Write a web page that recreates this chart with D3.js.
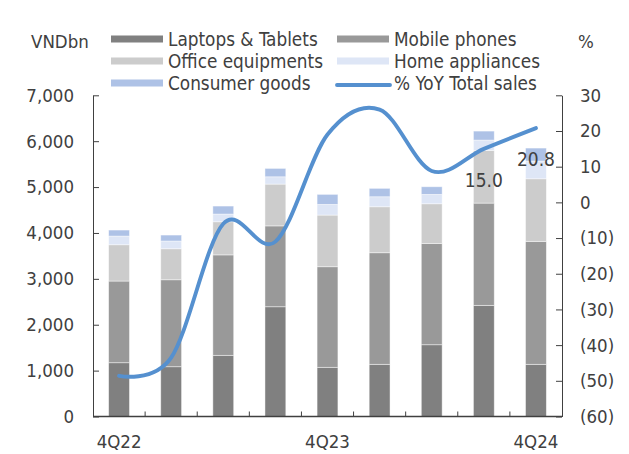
<!DOCTYPE html>
<html>
<head>
<meta charset="utf-8">
<script src="https://cdn.jsdelivr.net/npm/d3@7/dist/d3.min.js"></script>
<style>
  html, body { margin: 0; padding: 0; background: #fff; }
  svg { display: block; }
  text { font-family: "DejaVu Sans Condensed", "DejaVu Sans", sans-serif; font-stretch: condensed; fill: #404040; }
</style>
</head>
<body>
<svg id="chart" width="629" height="454"></svg>
<script>
// Quarterly sales by product group (VNDbn) and YoY growth of total sales (%)
const categories = ["4Q22", "1Q23", "2Q23", "3Q23", "4Q23", "1Q24", "2Q24", "3Q24", "4Q24"];
const shownLabels = ["4Q22", "4Q23", "4Q24"];
const laptops   = [1172, 1085, 1333, 2392, 1072, 1137, 1564, 2422, 1137];
const mobile    = [1780, 1895, 2189, 1762, 2192, 2432, 2209, 2229, 2680];
const office    = [791, 676, 722, 911, 1126, 1002, 863, 1149, 1364];
const home      = [189, 168, 168, 159, 233, 218, 205, 224, 385];
const consumer  = [131, 130, 174, 183, 218, 183, 166, 196, 284];
const yoyTotal  = [-48.6, -43.5, -6.0, -11.0, 19.0, 26.0, 8.8, 15.0, 20.8];
const labelledPoints = ["3Q24", "4Q24"];
const leftTicks  = [0, 1000, 2000, 3000, 4000, 5000, 6000, 7000];
const rightTicks = [-60, -50, -40, -30, -20, -10, 0, 10, 20, 30];

const seriesNames  = ["Laptops & Tablets", "Mobile phones", "Office equipments", "Home appliances", "Consumer goods"];
const seriesValues = [laptops, mobile, office, home, consumer];
const seriesColors = ["#808080", "#999999", "#cccccc", "#dee6f6", "#aec2e6"];
const lineName  = "% YoY Total sales";
const lineColor = "#5590cf";

const svg = d3.select("#chart");
const plot = { left: 93, right: 562, top: 95.3, bottom: 416.5 };

const x = d3.scaleBand().domain(categories).range([plot.left, plot.right]).padding(0);
const yL = d3.scaleLinear().domain([0, 7000]).range([plot.bottom, plot.top]);
const yR = d3.scaleLinear().domain([-60, 30]).range([plot.bottom, plot.top]);
const barW = x.bandwidth() * 0.4;

// Stack the product groups
const rows = categories.map((c, i) => {
  const r = { cat: c };
  seriesNames.forEach((n, j) => r[n] = seriesValues[j][i]);
  return r;
});
const stacked = d3.stack().keys(seriesNames)(rows);

const barsG = svg.append("g");
stacked.forEach((layer, j) => {
  barsG.append("g").attr("fill", seriesColors[j])
    .selectAll("rect").data(layer).join("rect")
    .attr("x", d => x(d.data.cat) + (x.bandwidth() - barW) / 2)
    .attr("width", barW)
    .attr("y", d => yL(d[1]))
    .attr("height", d => yL(d[0]) - yL(d[1]))
    .attr("stroke", "#ffffff")
    .attr("stroke-opacity", 0.55)
    .attr("stroke-width", 0.8);
});

// Left axis (VNDbn)
const fmtL = d3.format(",");
const axL = svg.append("g").attr("transform", `translate(${plot.left},0)`)
  .call(d3.axisLeft(yL).tickValues(leftTicks).tickFormat(fmtL).tickSizeInner(-6).tickSizeOuter(0).tickPadding(19));

// Right axis (%)
const fmtR = v => v < 0 ? `(${Math.abs(v)})` : `${v}`;
const axR = svg.append("g").attr("transform", `translate(${plot.right},0)`)
  .call(d3.axisRight(yR).tickValues(rightTicks).tickFormat(fmtR).tickSizeInner(-6).tickSizeOuter(0).tickPadding(18));

// Bottom axis: baseline with ticks between categories
const axB = svg.append("g").attr("transform", `translate(0,${plot.bottom})`)
  .call(d3.axisBottom(x).tickValues(shownLabels).tickSize(0).tickPadding(18));
axB.select(".domain").remove();
svg.append("g").selectAll("line").data(categories.slice(1)).join("line")
  .attr("x1", d => x(d)).attr("x2", d => x(d))
  .attr("y1", plot.bottom - 5).attr("y2", plot.bottom)
  .attr("stroke", "#404040").attr("stroke-width", 1);
svg.append("line")
  .attr("x1", plot.left).attr("x2", plot.right)
  .attr("y1", plot.bottom).attr("y2", plot.bottom)
  .attr("stroke", "#404040").attr("stroke-width", 1.5);

[axL, axR, axB].forEach(g => {
  g.selectAll(".domain, .tick line").attr("stroke", "#404040");
  g.selectAll("text").attr("font-size", 18.5).attr("fill", "#404040")
    .style("font-family", null);
  g.attr("font-family", null);
});

// YoY line
const line = d3.line()
  .x((d, i) => x(categories[i]) + x.bandwidth() / 2)
  .y(d => yR(d))
  .curve(d3.curveCardinal.tension(0));
svg.append("path").datum(yoyTotal)
  .attr("d", line)
  .attr("fill", "none")
  .attr("stroke", lineColor)
  .attr("stroke-width", 3.9)
  .attr("stroke-linecap", "round");

// Value labels on the latest points
svg.append("g").selectAll("text")
  .data(categories.map((c, i) => ({ c, v: yoyTotal[i] })).filter(d => labelledPoints.includes(d.c)))
  .join("text")
  .attr("x", d => x(d.c) + x.bandwidth() / 2)
  .attr("y", d => yR(d.v) + 38)
  .attr("text-anchor", "middle")
  .attr("font-size", 19)
  .attr("fill", "#333333")
  .text(d => d.v.toFixed(1));

// Unit captions
svg.append("text").attr("x", 31).attr("y", 48).attr("font-size", 18.5).text("VNDbn");
svg.append("text").attr("x", 578).attr("y", 48).attr("font-size", 18.5).text("%");

// Legend
const legCols = [111, 337];
const legRows = [39, 61, 83];
const legendItems = seriesNames.map((n, j) => ({ name: n, color: seriesColors[j], type: "bar" }))
  .concat([{ name: lineName, color: lineColor, type: "line" }]);
const legend = svg.append("g");
legendItems.forEach((d, k) => {
  const cx = legCols[k % 2], cy = legRows[Math.floor(k / 2)];
  if (d.type === "bar") {
    legend.append("rect").attr("x", cx).attr("y", cy - 3.5).attr("width", 52).attr("height", 7).attr("fill", d.color);
  } else {
    legend.append("line").attr("x1", cx).attr("x2", cx + 53).attr("y1", cy + 2).attr("y2", cy + 2)
      .attr("stroke", d.color).attr("stroke-width", 3.9).attr("stroke-linecap", "round");
  }
  legend.append("text").attr("x", cx + 57).attr("y", cy + 6.5).attr("font-size", 18.8).text(d.name);
});
</script>
</body>
</html>
